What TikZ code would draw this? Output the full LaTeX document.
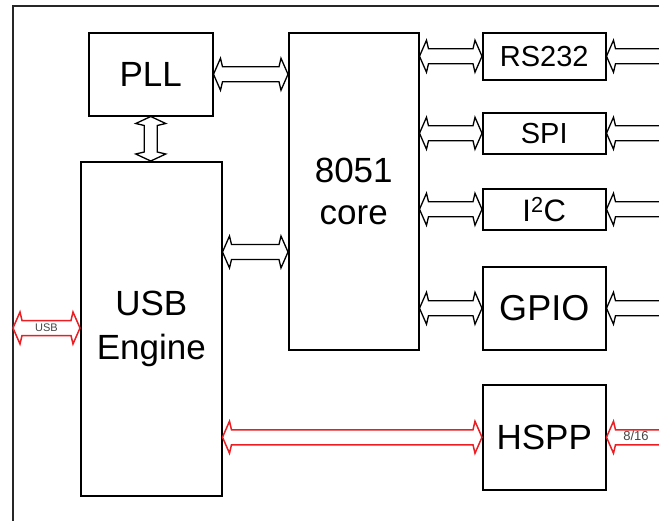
\documentclass[tikz,border=0pt]{standalone}
\usepackage{fontspec}
\setmainfont{Liberation Sans}
\usetikzlibrary{calc}
\definecolor{usbred}{RGB}{235,30,35}
\definecolor{lblgray}{RGB}{70,70,70}
\tikzset{
  blk/.style={draw, line width=1.5pt, inner sep=0pt, anchor=north west, align=center},
  arrowbody/.style={draw=black, fill=white, line width=1.3pt, line join=miter},
  redarrow/.style={arrowbody, draw=usbred, line width=1.5pt},
  lbl/.style={text=lblgray, inner sep=0pt, font=\fontsize{12}{12}\selectfont},
}
% horizontal double-headed hollow arrow
\newcommand{\HDarrow}[3][]{\path[arrowbody,#1] let \p1=#2, \p2=#3 in
  (\x1,\y1) -- (\x1+7pt,\y1+16pt) -- (\x1+9pt,\y1+7.5pt) -- (\x2-9pt,\y1+7.5pt) --
  (\x2-7pt,\y1+16pt) -- (\x2,\y1) -- (\x2-7pt,\y1-16pt) -- (\x2-9pt,\y1-7.5pt) --
  (\x1+9pt,\y1-7.5pt) -- (\x1+7pt,\y1-16pt) -- cycle;}
% horizontal hollow arrow, head at the left end only
\newcommand{\HLarrow}[3][]{\path[arrowbody,#1] let \p1=#2, \p2=#3 in
  (\x1,\y1) -- (\x1+7pt,\y1+16pt) -- (\x1+9pt,\y1+7.5pt) -- (\x2,\y1+7.5pt) --
  (\x2,\y1-7.5pt) -- (\x1+9pt,\y1-7.5pt) -- (\x1+7pt,\y1-16pt) -- cycle;}
% vertical double-headed hollow arrow (#2 top, #3 bottom)
\newcommand{\VDarrow}[3][]{\path[arrowbody,#1] let \p1=#2, \p2=#3 in
  (\x1,\y1) -- (\x1+15pt,\y1-7pt) -- (\x1+6.5pt,\y1-9pt) -- (\x1+6.5pt,\y2+9pt) --
  (\x1+15pt,\y2+7pt) -- (\x1,\y2) -- (\x1-15pt,\y2+7pt) -- (\x1-6.5pt,\y2+9pt) --
  (\x1-6.5pt,\y1-9pt) -- (\x1-15pt,\y1-7pt) -- cycle;}
\begin{document}
\begin{tikzpicture}[x=1pt, y=-1pt]
\useasboundingbox (0,0) rectangle (659,520);
\clip (0,0) rectangle (659,520);
\fill[white] (0,0) rectangle (659,520);
% outer frame (continues beyond the picture)
\draw[line width=1.5pt, draw=black!85] (13,700) -- (13,6) -- (800,6);

% blocks
\node[blk, minimum width=124pt, minimum height=83pt, font=\fontsize{35}{42}\selectfont] (pll) at (88,32) {PLL};
\node[blk, minimum width=141pt, minimum height=334pt, font=\fontsize{35}{44}\selectfont] (usb) at (80,161) {USB\\Engine};
\node[blk, minimum width=130pt, minimum height=317pt, font=\fontsize{35}{42}\selectfont] (core) at (288,32) {8051\\core};
\node[blk, minimum width=123pt, minimum height=47pt, font=\fontsize{29}{34}\selectfont] (rs) at (482,32) {RS232};
\node[blk, minimum width=123pt, minimum height=41pt, font=\fontsize{29}{34}\selectfont] (spi) at (482,112) {SPI};
\node[blk, minimum width=123pt, minimum height=41pt, font=\fontsize{31}{36}\selectfont] (i2c) at (482,188) {I\textsuperscript{2}C};
\node[blk, minimum width=123pt, minimum height=83pt, font=\fontsize{36}{42}\selectfont] (gpio) at (482,266) {GPIO};
\node[blk, minimum width=123pt, minimum height=105pt, font=\fontsize{35}{42}\selectfont] (hspp) at (482,384) {HSPP};

% helper coordinates
\coordinate (ucy) at (0,252);
\coordinate (usbin) at (13,328);
\coordinate (offr) at (680,0);

% black connectors
\HDarrow{(pll.east)}{(core.west |- pll.east)}
\VDarrow{(pll.south)}{(usb.north -| pll.south)}
\HDarrow{(usb.east |- ucy)}{(core.west |- ucy)}
\HDarrow{(core.east |- rs.west)}{(rs.west)}
\HDarrow{(core.east |- spi.west)}{(spi.west)}
\HDarrow{(core.east |- i2c.west)}{(i2c.west)}
\HDarrow{(core.east |- gpio.west)}{(gpio.west)}
\HLarrow{(rs.east)}{(offr |- rs.east)}
\HLarrow{(spi.east)}{(offr |- spi.east)}
\HLarrow{(i2c.east)}{(offr |- i2c.east)}
\HLarrow{(gpio.east)}{(offr |- gpio.east)}

% red connectors
\HDarrow[redarrow]{(usbin)}{(usb.west |- usbin)}
\HDarrow[redarrow]{(usb.east |- hspp.west)}{(hspp.west)}
\HLarrow[redarrow]{(hspp.east)}{(offr |- hspp.east)}

% labels
\node[lbl, font=\fontsize{11}{11}\selectfont] (usblbl) at ($(usbin)!0.5!(usb.west |- usbin)$) {USB};
\node[lbl, font=\fontsize{13}{13}\selectfont] (wlbl) at (636,436) {8/16};
\end{tikzpicture}
\end{document}
